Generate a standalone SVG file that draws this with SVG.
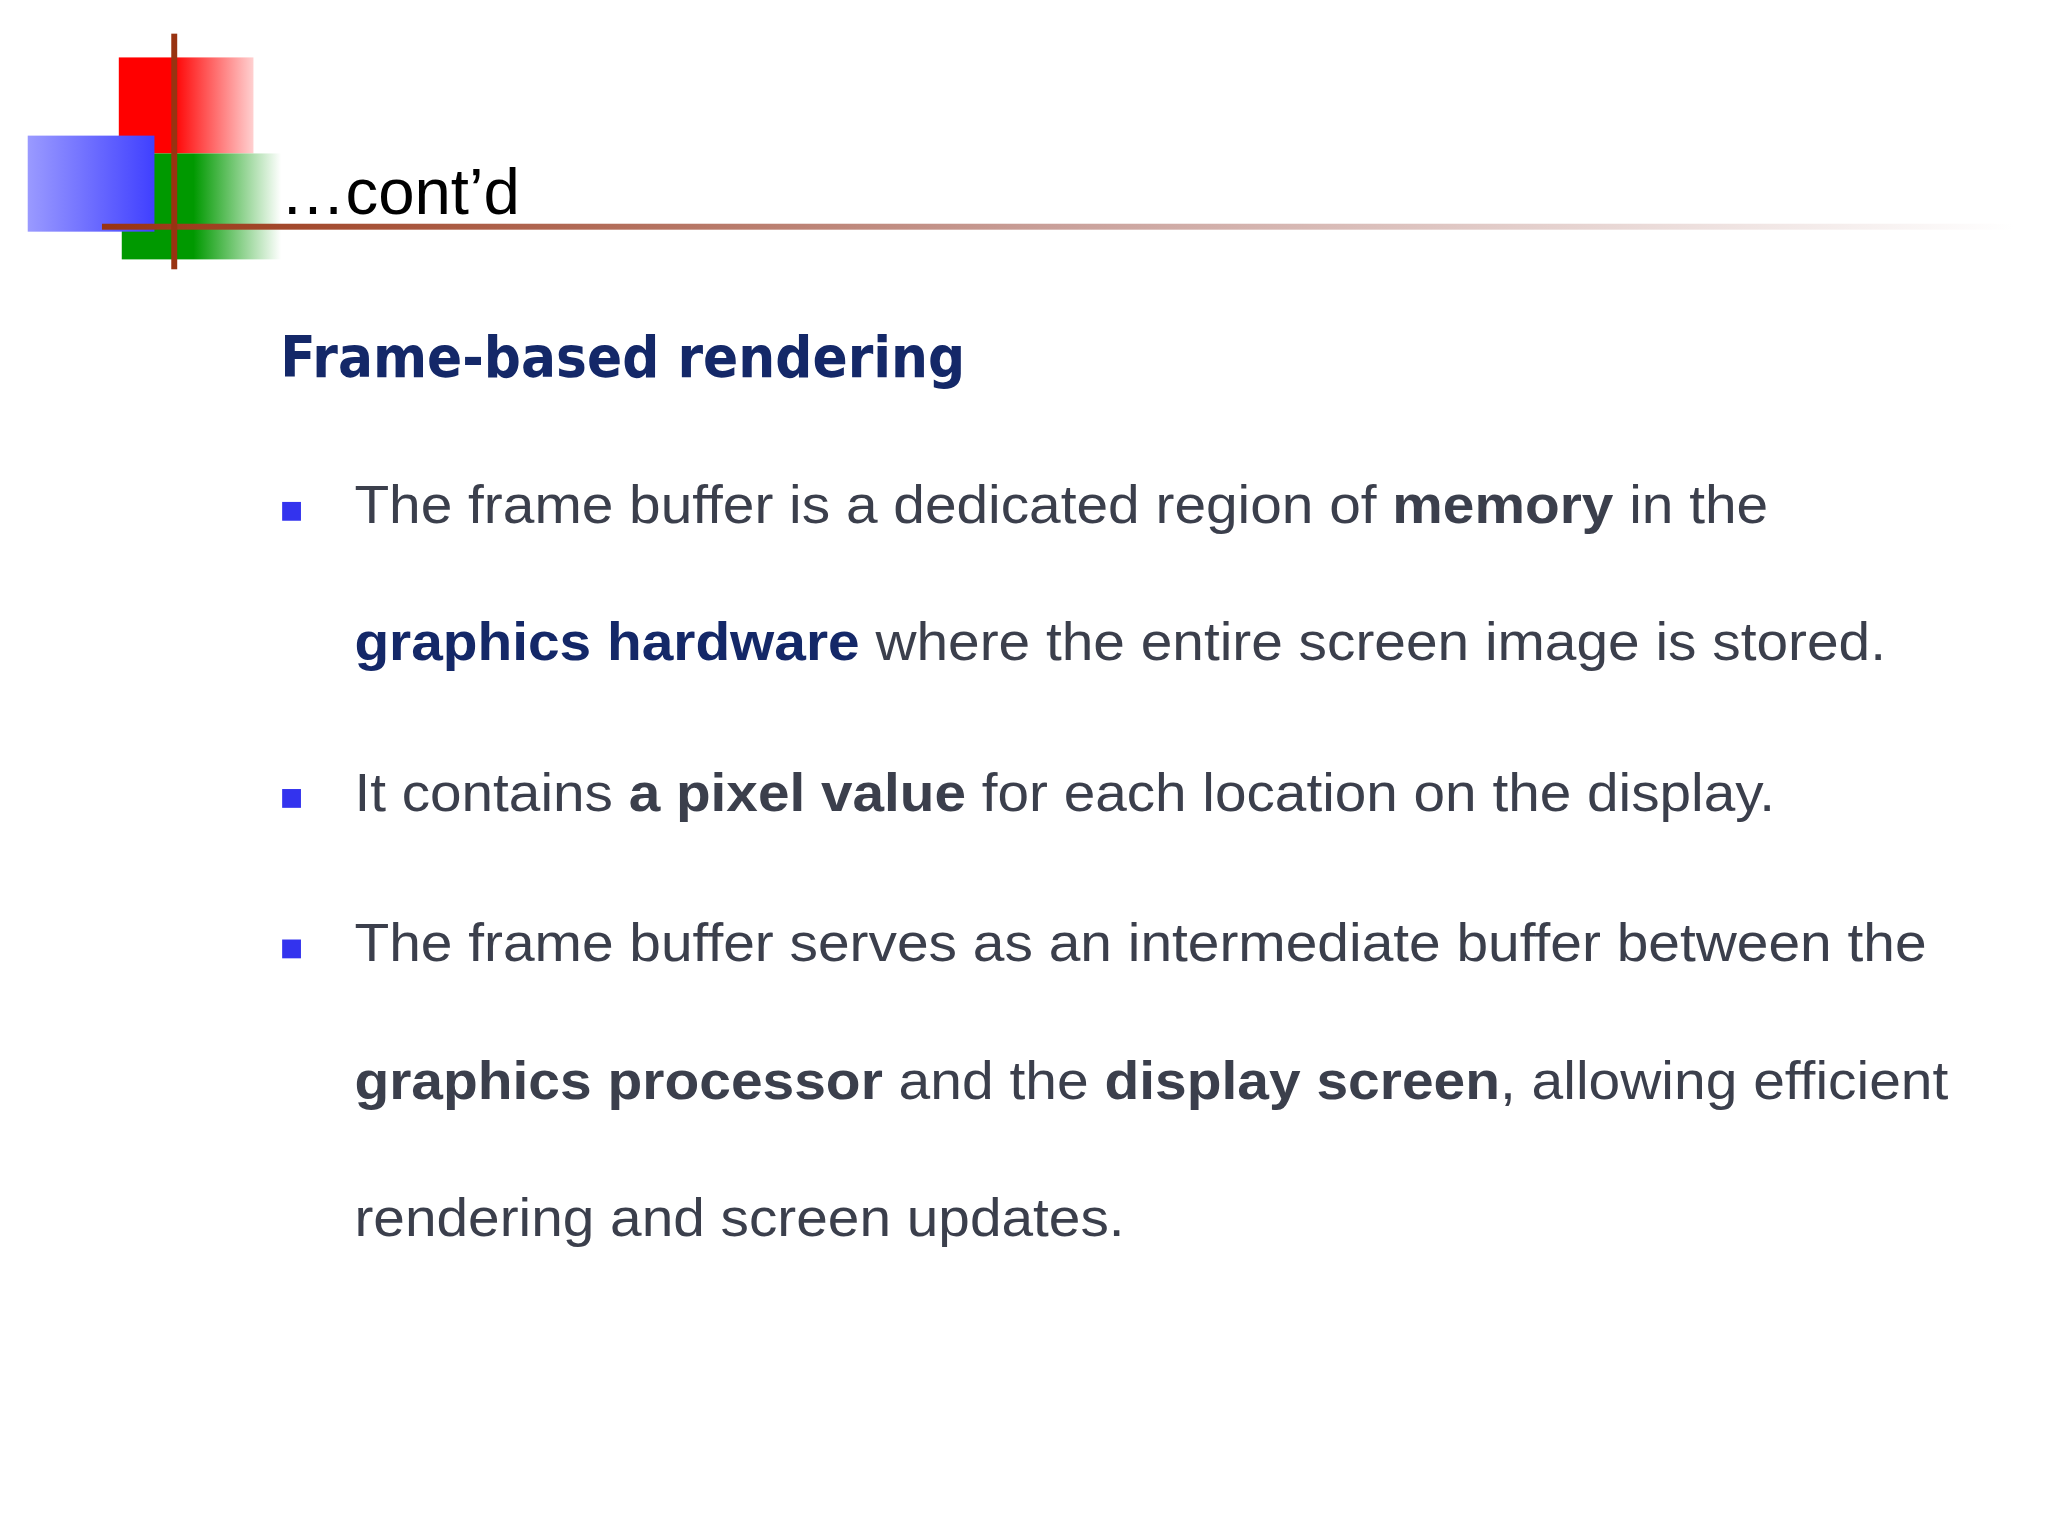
<svg xmlns="http://www.w3.org/2000/svg" width="2048" height="1536" viewBox="0 0 2048 1536">
<defs>
<linearGradient id="gr" x1="0" x2="1"><stop offset="0" stop-color="#ff0000"/><stop offset="0.4" stop-color="#ff0000"/><stop offset="1" stop-color="#ffd0d0"/></linearGradient>
<linearGradient id="gb" x1="0" x2="1"><stop offset="0" stop-color="#9a9aff"/><stop offset="1" stop-color="#4040ff"/></linearGradient>
<linearGradient id="gg" x1="0" x2="1"><stop offset="0" stop-color="#009900"/><stop offset="0.45" stop-color="#009900"/><stop offset="1" stop-color="#ffffff"/></linearGradient>
<linearGradient id="gl" x1="0" x2="1"><stop offset="0" stop-color="#993311"/><stop offset="0.5" stop-color="#c9a09a"/><stop offset="1" stop-color="#ffffff"/></linearGradient>
<style>
.t{font-family:"Liberation Sans",Arial,sans-serif;font-size:55px;fill:#3b3f4c}
.b{font-weight:bold}
.n{fill:#142868}
.bul{fill:#3333ee}
</style>
</defs>
<rect width="2048" height="1536" fill="#fff"/>
<g transform="scale(0.99)">
<g id="logo">
<rect x="120" y="58" width="136" height="97" fill="url(#gr)"/>
<rect x="123" y="155" width="161" height="107" fill="url(#gg)"/>
<rect x="28" y="137" width="128" height="97" fill="url(#gb)"/>
<rect x="103" y="226" width="1931" height="6" fill="url(#gl)"/>
<rect x="173" y="34" width="6" height="238" fill="#993311"/>
</g>
<text x="283" y="216" font-family="Liberation Sans,Arial,sans-serif" font-size="66" fill="#000">…cont’d</text>
<text x="283" y="381" font-family="DejaVu Sans,Verdana,sans-serif" font-weight="bold" font-size="58" fill="#142868" textLength="692" lengthAdjust="spacingAndGlyphs">Frame-based rendering</text>
<rect class="bul" x="285" y="507" width="19" height="19"/>
<rect class="bul" x="285" y="797" width="19" height="19"/>
<rect class="bul" x="285" y="949" width="19" height="19"/>
<text class="t" x="358" y="528" textLength="1428" lengthAdjust="spacingAndGlyphs">The frame buffer is a dedicated region of <tspan class="b">memory</tspan> in the</text>
<text class="t" x="358" y="667" textLength="1547" lengthAdjust="spacingAndGlyphs"><tspan class="b n">graphics hardware</tspan> where the entire screen image is stored.</text>
<text class="t" x="358" y="819" textLength="1435" lengthAdjust="spacingAndGlyphs">It contains <tspan class="b">a pixel value</tspan> for each location on the display.</text>
<text class="t" x="358" y="971" textLength="1588" lengthAdjust="spacingAndGlyphs">The frame buffer serves as an intermediate buffer between the</text>
<text class="t" x="358" y="1110" textLength="1610" lengthAdjust="spacingAndGlyphs"><tspan class="b">graphics processor</tspan> and the <tspan class="b">display screen</tspan>, allowing efficient</text>
<text class="t" x="358" y="1248" textLength="778" lengthAdjust="spacingAndGlyphs">rendering and screen updates.</text>
</g>
</svg>
